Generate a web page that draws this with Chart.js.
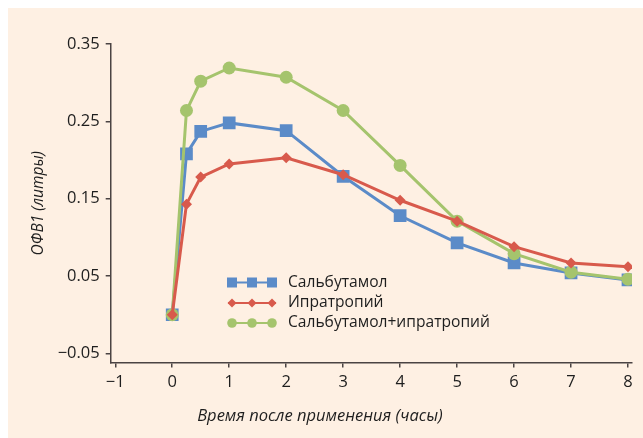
<!DOCTYPE html>
<html lang="ru">
<head>
<meta charset="UTF-8">
<title>ОФВ1</title>
<script src="https://cdn.jsdelivr.net/npm/chart.js"></script>
<style>
    html, body { margin: 0; padding: 0; background: #ffffff; }
    #box {
        position: absolute;
        left: 8px;
        top: 8px;
        width: 635px;
        height: 430px;
        background: #fef0e3;
    }
</style>
</head>
<body>
<div id="box"><canvas id="chart"></canvas></div>
<script>
    // время после применения (часы)
    const hours = [0, 0.25, 0.5, 1, 2, 3, 4, 5, 6, 7, 8];
    const salbutamol = [0, 0.208, 0.237, 0.248, 0.238, 0.179, 0.128, 0.093, 0.067, 0.054, 0.045];
    const ipratropium = [0, 0.143, 0.178, 0.195, 0.203, 0.181, 0.148, 0.121, 0.088, 0.067, 0.062];
    const combined = [0, 0.264, 0.302, 0.319, 0.307, 0.264, 0.193, 0.121, 0.079, 0.055, 0.046];
    const seriesNames = ['Сальбутамол', 'Ипратропий', 'Сальбутамол+ипратропий'];
    const xTicks = [-1, 0, 1, 2, 3, 4, 5, 6, 7, 8];
    const yTicks = [-0.05, 0.05, 0.15, 0.25, 0.35];

    const BLUE = '#5b8bc8';
    const RED = '#d85a4c';
    const GREEN = '#a5c46d';
    const AXIS = '#4a4343';
    const TEXT = '#1e1e1e';
    const FONT = '"Open Sans", "Noto Sans", sans-serif';

    const pts = vals => hours.map((h, i) => ({ x: h, y: vals[i] }));

    // легенда внутри области графика
    const insideLegend = {
        id: 'insideLegend',
        afterDatasetsDraw(chart) {
            const ctx = chart.ctx;
            const x0 = 220, x1 = 268, ys = [274.5, 295, 315];
            const marks = [224, 244, 264];
            ctx.save();
            chart.data.datasets.forEach(ds => {
                const y = ys[ds.legendRow];
                ctx.strokeStyle = ds.borderColor;
                ctx.fillStyle = ds.borderColor;
                ctx.lineWidth = 2.2;
                ctx.beginPath();
                ctx.moveTo(x0, y);
                ctx.lineTo(x1, y);
                ctx.stroke();
                marks.forEach(mx => {
                    ctx.beginPath();
                    if (ds.pointStyle === 'rect') {
                        ctx.rect(mx - 5, y - 5, 10, 10);
                    } else if (ds.pointStyle === 'rectRot') {
                        ctx.moveTo(mx, y - 4.5);
                        ctx.lineTo(mx + 4.5, y);
                        ctx.lineTo(mx, y + 4.5);
                        ctx.lineTo(mx - 4.5, y);
                        ctx.closePath();
                    } else {
                        ctx.arc(mx, y, 4.8, 0, Math.PI * 2);
                    }
                    ctx.fill();
                });
                ctx.fillStyle = TEXT;
                ctx.font = '15.6px ' + FONT;
                ctx.textBaseline = 'middle';
                ctx.fillText(ds.label, 280, y);
            });
            ctx.restore();
        }
    };

    new Chart(document.getElementById('chart'), {
        type: 'line',
        data: {
            datasets: [
                {
                    label: seriesNames[0],
                    data: pts(salbutamol),
                    borderColor: BLUE,
                    backgroundColor: BLUE,
                    pointStyle: 'rect',
                    pointRadius: 9,
                    borderWidth: 3,
                    pointBorderWidth: 0,
                    order: 2,
                    legendRow: 0
                },
                {
                    label: seriesNames[1],
                    data: pts(ipratropium),
                    borderColor: RED,
                    backgroundColor: RED,
                    pointStyle: 'rectRot',
                    pointRadius: 5.5,
                    borderWidth: 3,
                    pointBorderWidth: 0,
                    order: 0,
                    legendRow: 1
                },
                {
                    label: seriesNames[2],
                    data: pts(combined),
                    borderColor: GREEN,
                    backgroundColor: GREEN,
                    pointStyle: 'circle',
                    pointRadius: 6.5,
                    borderWidth: 3,
                    pointBorderWidth: 0,
                    order: 1,
                    legendRow: 2
                }
            ]
        },
        options: {
            responsive: true,
            maintainAspectRatio: false,
            animation: false,
            layout: { padding: { top: 36, right: 11, left: 0, bottom: 11.4 } },
            elements: { line: { tension: 0 } },
            plugins: {
                legend: { display: false },
                tooltip: { enabled: false },
                title: {
                    display: true,
                    position: 'bottom',
                    text: 'Время после применения (часы)',
                    color: TEXT,
                    font: { family: FONT, size: 16.5, style: 'italic', weight: 'normal' },
                    padding: { top: 0, bottom: 0 }
                }
            },
            scales: {
                x: {
                    type: 'linear',
                    min: -1.08,
                    max: 8.07,
                    afterBuildTicks: s => { s.ticks = xTicks.map(v => ({ value: v })); },
                    afterFit: s => { s.height = 44.4; },
                    grid: { drawOnChartArea: false, tickLength: 5, color: AXIS, lineWidth: 1.5 },
                    border: { color: AXIS, width: 1.5 },
                    ticks: {
                        color: TEXT,
                        padding: 5,
                        font: { family: FONT, size: 16.5 },
                        callback: v => String(v).replace('-', '\u2212')
                    }
                },
                y: {
                    min: -0.0616,
                    max: 0.35,
                    afterBuildTicks: s => { s.ticks = yTicks.map(v => ({ value: v })); },
                    afterFit: s => { s.width = 102.7; },
                    grid: { drawOnChartArea: false, tickLength: 5, color: AXIS, lineWidth: 1.5 },
                    border: { color: AXIS, width: 1.5 },
                    title: {
                        display: true,
                        text: 'ОФВ1 (литры)',
                        color: TEXT,
                        font: { family: FONT, size: 15.5, style: 'italic' },
                        padding: { top: 21, bottom: 0 }
                    },
                    ticks: {
                        color: TEXT,
                        padding: 6,
                        font: { family: FONT, size: 16.5 },
                        callback: v => v.toFixed(2).replace('-', '\u2212')
                    }
                }
            }
        },
        plugins: [insideLegend]
    });
</script>
</body>
</html>
